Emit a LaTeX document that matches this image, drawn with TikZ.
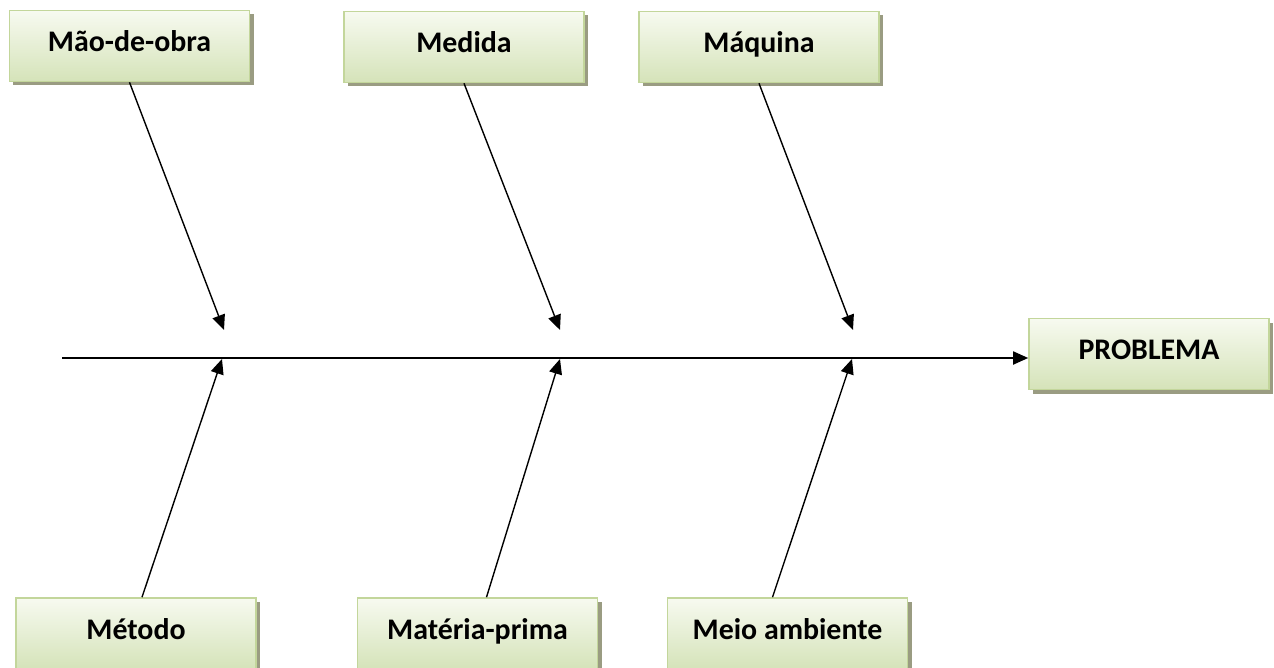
\documentclass[tikz,border=0pt]{standalone}
\usepackage{fontspec}
\setmainfont{Carlito}
\usetikzlibrary{arrows.meta,shadows}
\definecolor{boxline}{HTML}{C3D69B}
\definecolor{boxtop}{HTML}{F7FAF0}
\definecolor{boxbot}{HTML}{D5E3B9}
\definecolor{shadowc}{HTML}{9A9C82}
\tikzset{
  causebox/.style={draw=boxline, line width=1.6bp, minimum width=240bp,
    minimum height=71bp, inner sep=0pt, top color=boxtop, bottom color=boxbot,
    font=\fontsize{30}{34}\selectfont\bfseries, text=black,
    text height=17bp, text depth=6bp,
    general shadow={fill=shadowc, shadow xshift=4bp, shadow yshift=-4bp}},
  causearrow/.style={line width=1.4bp, -{Triangle[length=15bp,width=13bp]}},
}
\begin{document}
\begin{tikzpicture}[x=1bp,y=-1bp]
\useasboundingbox (0,0) rectangle (1274,668);

% cause categories
\node[causebox] (mao) at (129.5,46) {Mão-de-obra};
\node[causebox] (med) at (464,47) {Medida};
\node[causebox] (maq) at (759,47) {Máquina};
\node[causebox] (met) at (136,633.5) {Método};
\node[causebox] (mat) at (477.5,633.5) {Matéria-prima};
\node[causebox] (mei) at (787.5,633.5) {Meio ambiente};
\node[causebox] (prob) at (1149,354) {PROBLEMA};

% spine
\coordinate (tail) at (62,358);
\draw[causearrow, line width=1.8bp] (tail) -- (tail -| prob.west);

% arrow tips on the spine
\coordinate (t1) at (224,330);
\coordinate (t2) at (560,330);
\coordinate (t3) at (853,330);
\coordinate (b1) at (222,359);
\coordinate (b2) at (560,359);
\coordinate (b3) at (852,359);

\draw[causearrow] (mao.south) -- (t1);
\draw[causearrow] (med.south) -- (t2);
\draw[causearrow] (maq.south) -- (t3);
\draw[causearrow] ([xshift=6bp]met.north) -- (b1);
\draw[causearrow] ([xshift=9bp]mat.north) -- (b2);
\draw[causearrow] ([xshift=-15bp]mei.north) -- (b3);
\end{tikzpicture}
\end{document}
